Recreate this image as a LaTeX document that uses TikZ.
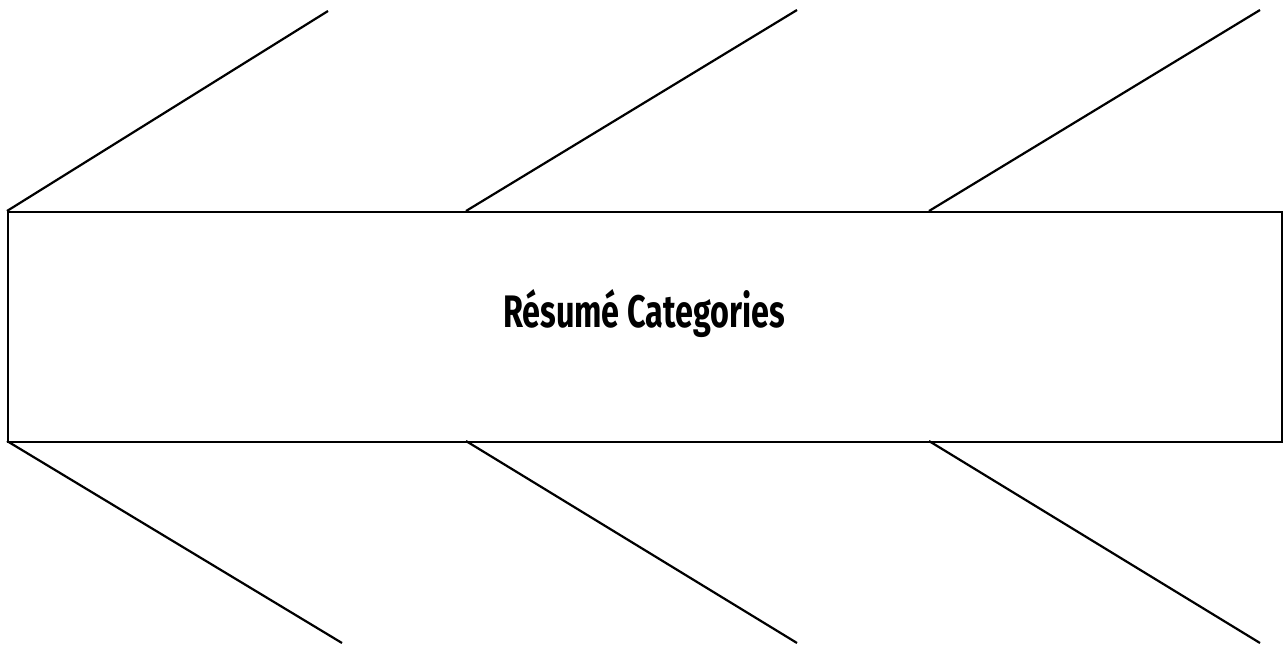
\documentclass[tikz,border=0pt]{standalone}
\usepackage{fontspec}
\setmainfont{Fira Sans}
\usepackage{graphicx}
\begin{document}
\begin{tikzpicture}[x=1pt,y=-1pt,
  bone/.style={line width=2.2pt, black},
  box/.style={draw, line width=2.2pt, rectangle, minimum width=1274pt, minimum height=230pt, inner sep=0pt, anchor=north west}]
\useasboundingbox (0,0) rectangle (1288,646);
\node[box] (b) at (7,211) {};
\node[anchor=base, inner sep=0pt] (t) at (644,327) {\resizebox{282pt}{\totalheight}{\fontsize{36}{40}\selectfont\bfseries Résumé Categories}};
\coordinate (s1) at (7,211);
\coordinate (s2) at (466,211);
\coordinate (s3) at (929,211);
\coordinate (u1) at (7,441);
\coordinate (u2) at (466,441);
\coordinate (u3) at (929,441);
\coordinate (e1) at (328,11);
\coordinate (e2) at (797,10);
\coordinate (e3) at (1260,10);
\coordinate (f1) at (342,643);
\coordinate (f2) at (797,643);
\coordinate (f3) at (1260,643);
\draw[bone] (s1) -- (e1);
\draw[bone] (s2) -- (e2);
\draw[bone] (s3) -- (e3);
\draw[bone] (u1) -- (f1);
\draw[bone] (u2) -- (f2);
\draw[bone] (u3) -- (f3);
\end{tikzpicture}
\end{document}
